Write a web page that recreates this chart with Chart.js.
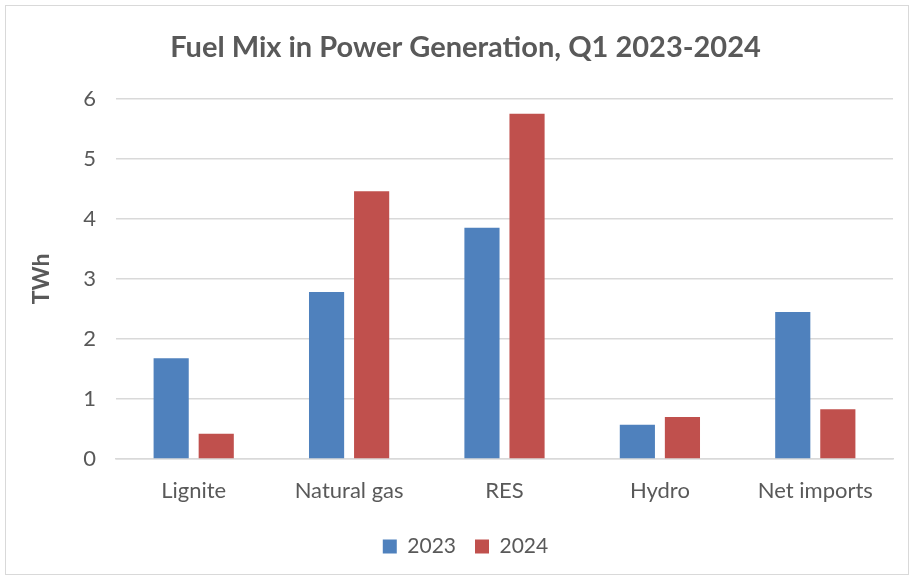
<!DOCTYPE html>
<html>
<head>
<meta charset="utf-8">
<script src="https://cdn.jsdelivr.net/npm/chart.js@4/dist/chart.umd.min.js"></script>
<style>
  html, body { margin: 0; padding: 0; background: #fff; }
  #wrap { width: 912px; height: 577px; position: relative; }
</style>
</head>
<body>
<div id="wrap"><canvas id="fuelmix" width="912" height="577"></canvas></div>
<script>
const categories = ["Lignite", "Natural gas", "RES", "Hydro", "Net imports"];
const series2023 = [1.68, 2.78, 3.85, 0.57, 2.45];
const series2024 = [0.42, 4.46, 5.75, 0.70, 0.83];
const yTicks = [0, 1, 2, 3, 4, 5, 6];

const textColor = "#595959";
const gridColor = "#d9d9d9";
const fontFamily = "Lato, 'Open Sans', sans-serif";

// light frame round the whole chart
const frame = {
  id: "frame",
  beforeDraw(chart) {
    const ctx = chart.ctx;
    ctx.save();
    ctx.fillStyle = "#fff";
    ctx.fillRect(0, 0, chart.width, chart.height);
    ctx.strokeStyle = gridColor;
    ctx.lineWidth = 1;
    ctx.strokeRect(5.5, 5.5, 903, 569);
    ctx.restore();
  },
};

const data = {
  labels: categories,
  datasets: [
    {
      label: "2023",
      data: series2023,
      backgroundColor: "#4F81BD",
      borderWidth: 0,
    },
    {
      label: "2024",
      data: series2024,
      backgroundColor: "#C0504D",
      borderWidth: 0,
    },
  ],
};

const config = {
  type: "bar",
  data: data,
  plugins: [frame],
  options: {
    responsive: false,
    animation: false,
    categoryPercentage: 0.58,
    barPercentage: 0.78,
    layout: {
      padding: { left: 38, right: 19, top: 0, bottom: 10 },
    },
    plugins: {
      tooltip: { enabled: false },
      title: {
        display: true,
        text: "Fuel Mix in Power Generation, Q1 2023-2024",
        color: textColor,
        font: { family: fontFamily, size: 29, weight: "bold" },
        padding: { top: 30, bottom: 34 },
      },
      legend: {
        position: "bottom",
        labels: {
          color: textColor,
          font: { family: fontFamily, size: 21 },
          boxWidth: 14,
          boxHeight: 14,
          padding: 19,
        },
      },
    },
    scales: {
      x: {
        grid: { display: false, drawTicks: false },
        border: { display: true, color: gridColor, width: 1.5 },
        ticks: {
          color: textColor,
          font: { family: fontFamily, size: 22 },
          padding: 19,
        },
        afterFit: function (scale) {
          scale.height = 58;
        },
      },
      y: {
        min: 0,
        max: 6,
        afterBuildTicks: function (scale) {
          scale.ticks = yTicks.map(function (v) { return { value: v }; });
        },
        grid: { color: gridColor, lineWidth: 1.5, drawTicks: false },
        border: { display: false },
        ticks: {
          color: textColor,
          font: { family: fontFamily, size: 22 },
          padding: 20,
        },
        title: {
          display: true,
          text: "TWh",
          color: textColor,
          font: { family: fontFamily, size: 23, weight: "bold" },
          padding: { top: -10, bottom: 0 },
        },
        afterFit: function (scale) {
          scale.width = 78;
        },
      },
    },
  },
};

new Chart(document.getElementById("fuelmix"), config);
</script>
</body>
</html>
